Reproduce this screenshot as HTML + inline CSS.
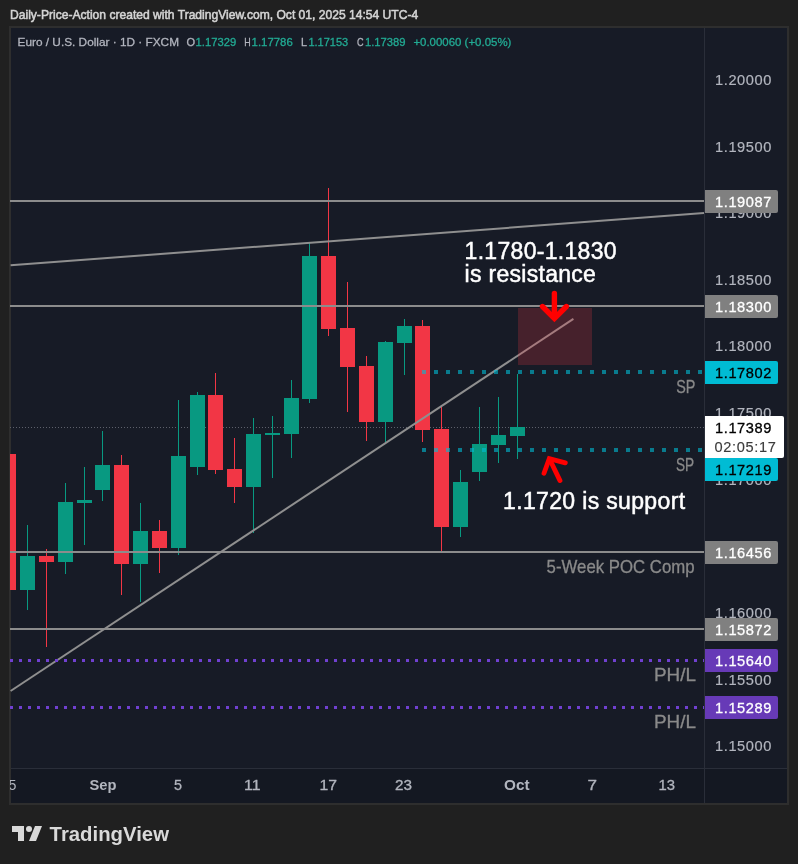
<!DOCTYPE html>
<html><head><meta charset="utf-8"><style>
html,body{margin:0;padding:0;background:#202020;width:798px;height:864px;overflow:hidden}
.panel{position:absolute;left:9px;top:26px;width:776px;height:775px;border:2px solid #2e2e2e;background:#171b26}
svg{position:absolute;left:0;top:0;will-change:transform}
</style></head><body>
<div class="panel"></div>
<svg width="798" height="864" viewBox="0 0 798 864">
<defs><clipPath id="cc"><rect x="10" y="28" width="694" height="740"/></clipPath><clipPath id="ta"><rect x="10" y="769" width="694" height="34"/></clipPath></defs>
<g clip-path="url(#cc)">
<line x1="10" y1="427.5" x2="704" y2="427.5" stroke="#5d606b" stroke-width="1" stroke-dasharray="1 2"/>
<rect x="1" y="454" width="15" height="136" fill="#f23645"/>
<rect x="27" y="525" width="1" height="85" fill="#089981"/>
<rect x="20" y="556" width="15" height="34" fill="#089981"/>
<rect x="46" y="549" width="1" height="98" fill="#f23645"/>
<rect x="39" y="556" width="15" height="6" fill="#f23645"/>
<rect x="65" y="483" width="1" height="91" fill="#089981"/>
<rect x="58" y="502" width="15" height="60" fill="#089981"/>
<rect x="84" y="467" width="1" height="78" fill="#089981"/>
<rect x="77" y="500" width="15" height="3" fill="#089981"/>
<rect x="102" y="431" width="1" height="70" fill="#089981"/>
<rect x="95" y="465" width="15" height="25" fill="#089981"/>
<rect x="121" y="455" width="1" height="140" fill="#f23645"/>
<rect x="114" y="465" width="15" height="99" fill="#f23645"/>
<rect x="140" y="503" width="1" height="99" fill="#089981"/>
<rect x="133" y="531" width="15" height="33" fill="#089981"/>
<rect x="159" y="520" width="1" height="53" fill="#f23645"/>
<rect x="152" y="531" width="15" height="17" fill="#f23645"/>
<rect x="178" y="400" width="1" height="155" fill="#089981"/>
<rect x="171" y="456" width="15" height="92" fill="#089981"/>
<rect x="197" y="392" width="1" height="83" fill="#089981"/>
<rect x="190" y="395" width="15" height="72" fill="#089981"/>
<rect x="215" y="373" width="1" height="101" fill="#f23645"/>
<rect x="208" y="395" width="15" height="75" fill="#f23645"/>
<rect x="234" y="438" width="1" height="65" fill="#f23645"/>
<rect x="227" y="469" width="15" height="18" fill="#f23645"/>
<rect x="253" y="418" width="1" height="115" fill="#089981"/>
<rect x="246" y="434" width="15" height="53" fill="#089981"/>
<rect x="272" y="416" width="1" height="62" fill="#089981"/>
<rect x="265" y="433" width="15" height="2" fill="#089981"/>
<rect x="291" y="380" width="1" height="78" fill="#089981"/>
<rect x="284" y="398" width="15" height="36" fill="#089981"/>
<rect x="309" y="243" width="1" height="160" fill="#089981"/>
<rect x="302" y="256" width="15" height="143" fill="#089981"/>
<rect x="328" y="188" width="1" height="148" fill="#f23645"/>
<rect x="321" y="256" width="15" height="73" fill="#f23645"/>
<rect x="347" y="282" width="1" height="130" fill="#f23645"/>
<rect x="340" y="328" width="15" height="39" fill="#f23645"/>
<rect x="366" y="356" width="1" height="85" fill="#f23645"/>
<rect x="359" y="366" width="15" height="56" fill="#f23645"/>
<rect x="385" y="341" width="1" height="101" fill="#089981"/>
<rect x="378" y="342" width="15" height="80" fill="#089981"/>
<rect x="404" y="319" width="1" height="56" fill="#089981"/>
<rect x="397" y="326" width="15" height="17" fill="#089981"/>
<rect x="422" y="320" width="1" height="122" fill="#f23645"/>
<rect x="415" y="326" width="15" height="104" fill="#f23645"/>
<rect x="441" y="407" width="1" height="144" fill="#f23645"/>
<rect x="434" y="429" width="15" height="98" fill="#f23645"/>
<rect x="460" y="470" width="1" height="67" fill="#089981"/>
<rect x="453" y="482" width="15" height="45" fill="#089981"/>
<rect x="479" y="407" width="1" height="74" fill="#089981"/>
<rect x="472" y="444" width="15" height="28" fill="#089981"/>
<rect x="498" y="397" width="1" height="66" fill="#089981"/>
<rect x="491" y="435" width="15" height="10" fill="#089981"/>
<rect x="517" y="374" width="1" height="85" fill="#089981"/>
<rect x="510" y="427" width="15" height="9" fill="#089981"/>
<rect x="10" y="200" width="694" height="2" fill="#8c8c8c"/>
<rect x="10" y="305" width="694" height="2" fill="#8c8c8c"/>
<rect x="10" y="551" width="694" height="2" fill="#8c8c8c"/>
<rect x="10" y="628" width="694" height="2" fill="#8c8c8c"/>
<line x1="10.6" y1="265.3" x2="704" y2="213.1" stroke="#8f8f8f" stroke-width="2"/>
<line x1="10.6" y1="691" x2="573.4" y2="318.9" stroke="#8f8f8f" stroke-width="2"/>
<rect x="518" y="308" width="74" height="57" fill="rgba(242,54,69,0.22)"/>
<line x1="422" y1="372" x2="704" y2="372" stroke="rgba(0,188,212,0.6)" stroke-width="4" stroke-dasharray="4 8"/>
<line x1="422" y1="450" x2="704" y2="450" stroke="rgba(0,188,212,0.6)" stroke-width="4" stroke-dasharray="4 8"/>
<line x1="10" y1="660.5" x2="704" y2="660.5" stroke="#7040d0" stroke-width="3" stroke-dasharray="3 6"/>
<line x1="10" y1="707.5" x2="704" y2="707.5" stroke="#7040d0" stroke-width="3" stroke-dasharray="3 6"/>
<g stroke="#ff0000" stroke-width="5.4" fill="none" stroke-linecap="round" stroke-linejoin="miter">
<line x1="554.4" y1="293.5" x2="554.4" y2="317"/>
<polyline points="542.5,306.5 554.4,318.4 566.4,306.5"/>
</g>
<g stroke="#ff0000" stroke-width="4.8" fill="none" stroke-linecap="round" stroke-linejoin="miter">
<line x1="560" y1="480.6" x2="550" y2="460"/>
<polyline points="544,473.3 549.3,458.6 565.3,462.9"/>
</g>
<text x="464.60" y="258.9" font-family="Liberation Sans, sans-serif" font-size="23" font-weight="normal" fill="#ffffff" stroke="#ffffff" stroke-width="0.5" textLength="151.94" lengthAdjust="spacing">1.1780-1.1830</text>
<text x="464.60" y="282.3" font-family="Liberation Sans, sans-serif" font-size="23" font-weight="normal" fill="#ffffff" stroke="#ffffff" stroke-width="0.5" textLength="131.27" lengthAdjust="spacing">is resistance</text>
<text x="503.00" y="509.4" font-family="Liberation Sans, sans-serif" font-size="23" font-weight="normal" fill="#ffffff" stroke="#ffffff" stroke-width="0.5" textLength="182.06" lengthAdjust="spacing">1.1720 is support</text>
<text x="676.20" y="392.6" font-family="Liberation Sans, sans-serif" font-size="17.8" font-weight="normal" fill="#8a8a8a" stroke="#8a8a8a" stroke-width="0.3" textLength="19.20" lengthAdjust="spacingAndGlyphs">SP</text>
<text x="676.00" y="470.8" font-family="Liberation Sans, sans-serif" font-size="17.8" font-weight="normal" fill="#8a8a8a" stroke="#8a8a8a" stroke-width="0.3" textLength="18.20" lengthAdjust="spacingAndGlyphs">SP</text>
<text x="546.60" y="572.7" font-family="Liberation Sans, sans-serif" font-size="17.8" font-weight="normal" fill="#8a8a8a" stroke="#8a8a8a" stroke-width="0.3" textLength="147.96" lengthAdjust="spacingAndGlyphs">5-Week POC Comp</text>
<text x="654.00" y="681" font-family="Liberation Sans, sans-serif" font-size="17.8" font-weight="normal" fill="#8a8a8a" stroke="#8a8a8a" stroke-width="0.3" textLength="42.00" lengthAdjust="spacingAndGlyphs">PH/L</text>
<text x="654.00" y="728" font-family="Liberation Sans, sans-serif" font-size="17.8" font-weight="normal" fill="#8a8a8a" stroke="#8a8a8a" stroke-width="0.3" textLength="42.00" lengthAdjust="spacingAndGlyphs">PH/L</text>
</g>
<rect x="11" y="769" width="776" height="34" fill="#141822"/>
<rect x="704" y="28" width="1" height="775" fill="#2a2e39"/>
<rect x="11" y="768" width="776" height="1" fill="#2a2e39"/>
<text x="715.00" y="84.9" font-family="Liberation Sans, sans-serif" font-size="14.6" font-weight="normal" fill="#b2b5be" stroke="#b2b5be" stroke-width="0.2" textLength="56.42" lengthAdjust="spacing">1.20000</text>
<text x="715.00" y="151.5" font-family="Liberation Sans, sans-serif" font-size="14.6" font-weight="normal" fill="#b2b5be" stroke="#b2b5be" stroke-width="0.2" textLength="56.42" lengthAdjust="spacing">1.19500</text>
<text x="715.00" y="218.1" font-family="Liberation Sans, sans-serif" font-size="14.6" font-weight="normal" fill="#b2b5be" stroke="#b2b5be" stroke-width="0.2" textLength="56.42" lengthAdjust="spacing">1.19000</text>
<text x="715.00" y="284.8" font-family="Liberation Sans, sans-serif" font-size="14.6" font-weight="normal" fill="#b2b5be" stroke="#b2b5be" stroke-width="0.2" textLength="56.42" lengthAdjust="spacing">1.18500</text>
<text x="715.00" y="351.4" font-family="Liberation Sans, sans-serif" font-size="14.6" font-weight="normal" fill="#b2b5be" stroke="#b2b5be" stroke-width="0.2" textLength="56.42" lengthAdjust="spacing">1.18000</text>
<text x="715.00" y="418.0" font-family="Liberation Sans, sans-serif" font-size="14.6" font-weight="normal" fill="#b2b5be" stroke="#b2b5be" stroke-width="0.2" textLength="56.42" lengthAdjust="spacing">1.17500</text>
<text x="715.00" y="484.6" font-family="Liberation Sans, sans-serif" font-size="14.6" font-weight="normal" fill="#b2b5be" stroke="#b2b5be" stroke-width="0.2" textLength="56.42" lengthAdjust="spacing">1.17000</text>
<text x="715.00" y="551.2" font-family="Liberation Sans, sans-serif" font-size="14.6" font-weight="normal" fill="#b2b5be" stroke="#b2b5be" stroke-width="0.2" textLength="56.42" lengthAdjust="spacing">1.16500</text>
<text x="715.00" y="617.9" font-family="Liberation Sans, sans-serif" font-size="14.6" font-weight="normal" fill="#b2b5be" stroke="#b2b5be" stroke-width="0.2" textLength="56.42" lengthAdjust="spacing">1.16000</text>
<text x="715.00" y="684.5" font-family="Liberation Sans, sans-serif" font-size="14.6" font-weight="normal" fill="#b2b5be" stroke="#b2b5be" stroke-width="0.2" textLength="56.42" lengthAdjust="spacing">1.15500</text>
<text x="715.00" y="751.1" font-family="Liberation Sans, sans-serif" font-size="14.6" font-weight="normal" fill="#b2b5be" stroke="#b2b5be" stroke-width="0.2" textLength="56.42" lengthAdjust="spacing">1.15000</text>
<path d="M705 190 H776 Q778 190 778 192 V211 Q778 213 776 213 H705 Z" fill="#808080"/>
<text x="715.00" y="206.8" font-family="Liberation Sans, sans-serif" font-size="14.6" font-weight="normal" fill="#ffffff" stroke="#ffffff" stroke-width="0.3" textLength="56.42" lengthAdjust="spacing">1.19087</text>
<path d="M705 295 H776 Q778 295 778 297 V316 Q778 318 776 318 H705 Z" fill="#808080"/>
<text x="715.00" y="311.8" font-family="Liberation Sans, sans-serif" font-size="14.6" font-weight="normal" fill="#ffffff" stroke="#ffffff" stroke-width="0.3" textLength="56.42" lengthAdjust="spacing">1.18300</text>
<path d="M705 361 H776 Q778 361 778 363 V382 Q778 384 776 384 H705 Z" fill="#00bcd4"/>
<text x="715.00" y="377.8" font-family="Liberation Sans, sans-serif" font-size="14.6" font-weight="normal" fill="#000000" stroke="#000000" stroke-width="0.3" textLength="56.42" lengthAdjust="spacing">1.17802</text>
<path d="M705 416 H782 Q784 416 784 418 V456 Q784 458 782 458 H705 Z" fill="#ffffff"/>
<text x="715.00" y="432.9" font-family="Liberation Sans, sans-serif" font-size="14.6" font-weight="normal" fill="#000000" stroke="#000000" stroke-width="0.3" textLength="56.42" lengthAdjust="spacing">1.17389</text>
<text x="714.60" y="451.8" font-family="Liberation Sans, sans-serif" font-size="14.6" font-weight="normal" fill="#3c3c3c" stroke="#3c3c3c" stroke-width="0.15" textLength="61.24" lengthAdjust="spacing">02:05:17</text>
<path d="M705 458 H776 Q778 458 778 460 V479 Q778 481 776 481 H705 Z" fill="#00bcd4"/>
<text x="715.00" y="475.1" font-family="Liberation Sans, sans-serif" font-size="14.6" font-weight="normal" fill="#000000" stroke="#000000" stroke-width="0.3" textLength="56.42" lengthAdjust="spacing">1.17219</text>
<path d="M705 541 H776 Q778 541 778 543 V562 Q778 564 776 564 H705 Z" fill="#808080"/>
<text x="715.00" y="557.8" font-family="Liberation Sans, sans-serif" font-size="14.6" font-weight="normal" fill="#ffffff" stroke="#ffffff" stroke-width="0.3" textLength="56.42" lengthAdjust="spacing">1.16456</text>
<path d="M705 618 H776 Q778 618 778 620 V639 Q778 641 776 641 H705 Z" fill="#808080"/>
<text x="715.00" y="634.9" font-family="Liberation Sans, sans-serif" font-size="14.6" font-weight="normal" fill="#ffffff" stroke="#ffffff" stroke-width="0.3" textLength="56.42" lengthAdjust="spacing">1.15872</text>
<path d="M705 649 H776 Q778 649 778 651 V670 Q778 672 776 672 H705 Z" fill="#673ab7"/>
<text x="715.00" y="665.8" font-family="Liberation Sans, sans-serif" font-size="14.6" font-weight="normal" fill="#ffffff" stroke="#ffffff" stroke-width="0.3" textLength="56.42" lengthAdjust="spacing">1.15640</text>
<path d="M705 696 H776 Q778 696 778 698 V717 Q778 719 776 719 H705 Z" fill="#673ab7"/>
<text x="715.00" y="712.8" font-family="Liberation Sans, sans-serif" font-size="14.6" font-weight="normal" fill="#ffffff" stroke="#ffffff" stroke-width="0.3" textLength="56.42" lengthAdjust="spacing">1.15289</text>
<g clip-path="url(#ta)">
<text x="8.5" y="790.4" font-family="Liberation Sans, sans-serif" font-size="14.2" fill="#b2b5be" text-anchor="middle" >25</text>
<text x="89.40" y="790.4" font-family="Liberation Sans, sans-serif" font-size="14.2" font-weight="bold" fill="#b2b5be" textLength="27.00" lengthAdjust="spacingAndGlyphs">Sep</text>
<text x="174.00" y="790.4" font-family="Liberation Sans, sans-serif" font-size="14.2" font-weight="normal" fill="#b2b5be" stroke="#b2b5be" stroke-width="0.3" textLength="8.00" lengthAdjust="spacingAndGlyphs">5</text>
<text x="244.00" y="790.4" font-family="Liberation Sans, sans-serif" font-size="14.2" font-weight="normal" fill="#b2b5be" stroke="#b2b5be" stroke-width="0.3" textLength="16.50" lengthAdjust="spacingAndGlyphs">11</text>
<text x="319.50" y="790.4" font-family="Liberation Sans, sans-serif" font-size="14.2" font-weight="normal" fill="#b2b5be" stroke="#b2b5be" stroke-width="0.3" textLength="17.50" lengthAdjust="spacingAndGlyphs">17</text>
<text x="395.00" y="790.4" font-family="Liberation Sans, sans-serif" font-size="14.2" font-weight="normal" fill="#b2b5be" stroke="#b2b5be" stroke-width="0.3" textLength="17.00" lengthAdjust="spacingAndGlyphs">23</text>
<text x="504.00" y="790.4" font-family="Liberation Sans, sans-serif" font-size="14.2" font-weight="bold" fill="#b2b5be" textLength="25.50" lengthAdjust="spacingAndGlyphs">Oct</text>
<text x="587.50" y="790.4" font-family="Liberation Sans, sans-serif" font-size="14.2" font-weight="normal" fill="#b2b5be" stroke="#b2b5be" stroke-width="0.3" textLength="9.50" lengthAdjust="spacingAndGlyphs">7</text>
<text x="658.50" y="790.4" font-family="Liberation Sans, sans-serif" font-size="14.2" font-weight="normal" fill="#b2b5be" stroke="#b2b5be" stroke-width="0.3" textLength="16.50" lengthAdjust="spacingAndGlyphs">13</text>
</g>
<g fill="#d9d9d9"><path d="M12 826H24V841H18V832H12Z"/><circle cx="29" cy="829" r="3"/><path d="M35 826H42L36 841H29Z"/></g>
<text x="49.60" y="840.6" font-family="Liberation Sans, sans-serif" font-size="21" font-weight="bold" fill="#d9d9d9" textLength="119.40" lengthAdjust="spacingAndGlyphs">TradingView</text>
<text x="10.00" y="19.2" font-family="Liberation Sans, sans-serif" font-size="12.6" font-weight="normal" fill="#d4d4d4" stroke="#d4d4d4" stroke-width="0.55" textLength="408.20" lengthAdjust="spacingAndGlyphs">Daily-Price-Action created with TradingView.com, Oct 01, 2025 14:54 UTC-4</text>
<text x="17.60" y="45.6" font-family="Liberation Sans, sans-serif" font-size="11.6" font-weight="normal" fill="#b2b5be" stroke="#b2b5be" stroke-width="0.3" textLength="161.40" lengthAdjust="spacingAndGlyphs">Euro / U.S. Dollar · 1D · FXCM</text>
<text x="186.40" y="45.6" font-family="Liberation Sans, sans-serif" font-size="11.6" font-weight="normal" fill="#b2b5be" stroke="#b2b5be" stroke-width="0.3" textLength="8.60" lengthAdjust="spacingAndGlyphs">O</text>
<text x="195.60" y="45.6" font-family="Liberation Sans, sans-serif" font-size="11.6" font-weight="normal" fill="#22ab94" stroke="#22ab94" stroke-width="0.3" textLength="40.60" lengthAdjust="spacingAndGlyphs">1.17329</text>
<text x="244.20" y="45.6" font-family="Liberation Sans, sans-serif" font-size="11.6" font-weight="normal" fill="#b2b5be" stroke="#b2b5be" stroke-width="0.3" textLength="6.40" lengthAdjust="spacingAndGlyphs">H</text>
<text x="251.60" y="45.6" font-family="Liberation Sans, sans-serif" font-size="11.6" font-weight="normal" fill="#22ab94" stroke="#22ab94" stroke-width="0.3" textLength="41.20" lengthAdjust="spacingAndGlyphs">1.17786</text>
<text x="301.00" y="45.6" font-family="Liberation Sans, sans-serif" font-size="11.6" font-weight="normal" fill="#b2b5be" stroke="#b2b5be" stroke-width="0.3" textLength="6.00" lengthAdjust="spacingAndGlyphs">L</text>
<text x="308.40" y="45.6" font-family="Liberation Sans, sans-serif" font-size="11.6" font-weight="normal" fill="#22ab94" stroke="#22ab94" stroke-width="0.3" textLength="39.80" lengthAdjust="spacingAndGlyphs">1.17153</text>
<text x="357.00" y="45.6" font-family="Liberation Sans, sans-serif" font-size="11.6" font-weight="normal" fill="#b2b5be" stroke="#b2b5be" stroke-width="0.3" textLength="6.60" lengthAdjust="spacingAndGlyphs">C</text>
<text x="365.00" y="45.6" font-family="Liberation Sans, sans-serif" font-size="11.6" font-weight="normal" fill="#22ab94" stroke="#22ab94" stroke-width="0.3" textLength="40.60" lengthAdjust="spacingAndGlyphs">1.17389</text>
<text x="413.40" y="45.6" font-family="Liberation Sans, sans-serif" font-size="11.6" font-weight="normal" fill="#22ab94" stroke="#22ab94" stroke-width="0.3" textLength="98.00" lengthAdjust="spacingAndGlyphs">+0.00060 (+0.05%)</text>
</svg>
</body></html>
